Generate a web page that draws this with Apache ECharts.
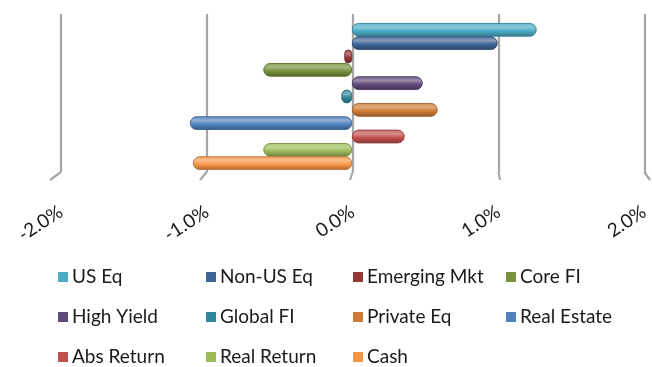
<!DOCTYPE html>
<html>
<head>
<meta charset="utf-8">
<script src="https://cdn.jsdelivr.net/npm/echarts@6/dist/echarts.min.js"></script>
<style>
  html, body { margin: 0; padding: 0; background: #fff; }
  #chart { width: 652px; height: 367px; }
</style>
</head>
<body>
<div id="chart"></div>
<script>
// asset classes, top to bottom as drawn
const NAMES = ["US Eq", "Non-US Eq", "Emerging Mkt", "Core FI", "High Yield", "Global FI",
  "Private Eq", "Real Estate", "Abs Return", "Real Return", "Cash"];
// values in percent
const VALUES = [1.23, 0.97, -0.05, -0.59, 0.47, -0.07, 0.57, -1.08, 0.35, -0.59, -1.06];
const COLORS = ["#4bacc6", "#3e6496", "#953735", "#77933c", "#604a7b", "#31859c",
  "#d07b35", "#4f81bd", "#c0504d", "#9bbb59", "#f79646"];
const TICKS = [-2, -1, 0, 1, 2];

// legend columns (Excel lays out 4 per row)
const LEGEND_COLS = [
  ["US Eq", "High Yield", "Abs Return"],
  ["Non-US Eq", "Global FI", "Real Return"],
  ["Emerging Mkt", "Private Eq", "Cash"],
  ["Core FI", "Real Estate"],
];
const LEGEND_LEFT = [58, 206, 353, 506];

const FONT = "Lato, 'Open Sans', sans-serif";
const GRID_GRAY = "#a6a6a6";

function shade(hex, k) {
  const n = parseInt(hex.slice(1), 16);
  let r = (n >> 16) & 255, g = (n >> 8) & 255, b = n & 255;
  const f = (c) => Math.max(0, Math.min(255, Math.round(k > 0 ? c + (255 - c) * k : c * (1 + k))));
  return "rgb(" + f(r) + "," + f(g) + "," + f(b) + ")";
}

// cylinder look: light top, darker bottom
function cyl(hex) {
  return new echarts.graphic.LinearGradient(0, 0, 0, 1, [
    { offset: 0, color: shade(hex, 0.15) },
    { offset: 0.3, color: shade(hex, 0.35) },
    { offset: 0.6, color: hex },
    { offset: 1, color: shade(hex, -0.3) },
  ]);
}

const chart = echarts.init(document.getElementById("chart"));

// grid 0 = back wall (gridlines + labels), grid 1 = bars, a bit to the front/left
const series = NAMES.map((n, i) => ({
  name: n,
  type: "bar",
  xAxisIndex: 1,
  yAxisIndex: 1,
  data: [VALUES[i]],
  barGap: "0%",
  barCategoryGap: "10%",
  itemStyle: { color: cyl(COLORS[i]), borderRadius: 7, borderColor: shade(COLORS[i], -0.25), borderWidth: 0.6 },
}));

const legends = LEGEND_COLS.map((col, j) => ({
  orient: "vertical",
  left: LEGEND_LEFT[j],
  top: 267,
  padding: 0,
  itemGap: 20,
  itemWidth: 10,
  itemHeight: 10,
  icon: "rect",
  selectedMode: false,
  itemStyle: { borderWidth: 0 },
  data: col.map((n) => ({ name: n, itemStyle: { color: COLORS[NAMES.indexOf(n)], borderWidth: 0 } })),
  textStyle: { fontFamily: FONT, fontSize: 19, lineHeight: 20, color: "#1a1a1a", padding: [0, 0, 0, -1] },
}));

const valueAxis = {
  type: "value",
  min: TICKS[0],
  max: TICKS[TICKS.length - 1],
  interval: 1,
  axisLine: { show: false },
  axisTick: { show: false },
};

chart.setOption({
  animation: false,
  backgroundColor: "#fff",
  grid: [
    { left: 61, right: -6, top: 14, height: 158 },
    { left: 52, right: 0, top: 15, height: 163 },
  ],
  xAxis: [
    Object.assign({}, valueAxis, {
      gridIndex: 0,
      splitLine: { lineStyle: { color: GRID_GRAY, width: 2.2 } },
      axisLabel: {
        rotate: 33,
        margin: 38,
        fontFamily: FONT,
        fontSize: 19,
        color: "#1a1a1a",
        formatter: (v) => v.toFixed(1) + "%",
      },
    }),
    Object.assign({}, valueAxis, {
      gridIndex: 1,
      splitLine: { show: false },
      axisLabel: { show: false },
    }),
  ],
  yAxis: [0, 1].map((g) => ({
    type: "category",
    gridIndex: g,
    data: [""],
    inverse: true,
    axisLine: { show: false },
    axisTick: { show: false },
    axisLabel: { show: false },
  })),
  legend: legends,
  series,
});

// floor edges: short slants from the foot of each back gridline toward the front
const floor = TICKS.map((t) => {
  const x = chart.convertToPixel({ xAxisIndex: 0 }, t);
  const xf = chart.convertToPixel({ xAxisIndex: 1 }, t);
  const yb = 172;
  return {
    type: "line",
    silent: true,
    shape: { x1: x, y1: yb, x2: xf - 2, y2: yb + 8 },
    style: { stroke: GRID_GRAY, lineWidth: 2.2 },
  };
});
chart.setOption({ graphic: floor });
</script>
</body>
</html>
